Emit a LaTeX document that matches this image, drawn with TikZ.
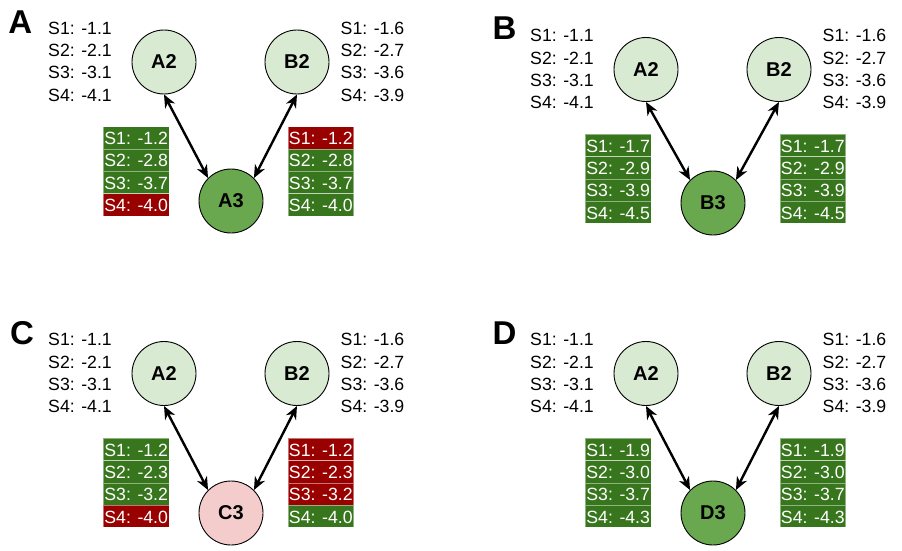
\documentclass[tikz,border=0pt]{standalone}
\usepackage{fontspec}
\setmainfont{Liberation Sans}
\usetikzlibrary{arrows.meta}
\definecolor{okgreen}{HTML}{38761D}
\definecolor{badred}{HTML}{990000}
\definecolor{litegreen}{HTML}{D9EAD3}
\definecolor{midgreen}{HTML}{6AA84F}
\definecolor{pinkfill}{HTML}{F4CCCC}
\begin{document}
\begin{tikzpicture}[x=1pt,y=-1pt,
  tag/.style={font=\fontsize{33}{33}\selectfont\bfseries,anchor=base west,inner sep=0},
  val/.style={font=\fontsize{17.7}{21}\selectfont,anchor=base west,inner sep=0},
  bubble/.style={circle,draw,line width=0.9pt,minimum size=64pt,inner sep=0,font=\fontsize{20}{20}\selectfont\bfseries},
  cell/.style={rectangle,draw=white,draw opacity=0.45,line width=0.6pt,minimum width=65.7pt,minimum height=22.3pt,inner sep=0,text=white,text height=13.6pt,text depth=0pt,font=\fontsize{17.7}{21}\selectfont},
  link/.style={line width=2.4pt,<->,>={Stealth[length=13pt,width=11pt,inset=4pt]}}]
\useasboundingbox (0,0) rectangle (902,551);

% panel A
\begin{scope}
\node[tag] (aT) at (8.3,33.3) {A};
\foreach \i/\v in {1/-1.1,2/-2.1,3/-3.1,4/-4.1}
  \node[val] (aL\i) at (48,11.9+22.3*\i) {S\i: \v};
\foreach \i/\v in {1/-1.6,2/-2.7,3/-3.6,4/-3.9}
  \node[val] (aR\i) at (340.5,11.9+22.3*\i) {S\i: \v};
\node[bubble,fill=litegreen] (aA2) at (164,62) {A2};
\node[bubble,fill=litegreen] (aB2) at (297,62) {B2};
\node[bubble,fill=midgreen] (aA3) at (231,201) {A3};
\foreach \i/\v/\c in {1/-1.2/okgreen,2/-2.8/okgreen,3/-3.7/okgreen,4/-4.0/badred}
  \node[cell,fill=\c] (aP\i) at (136.2,115.55+22.3*\i) {S\i: \v};
\foreach \i/\v/\c in {1/-1.2/badred,2/-2.8/okgreen,3/-3.7/okgreen,4/-4.0/okgreen}
  \node[cell,fill=\c] (aQ\i) at (320.8,115.55+22.3*\i) {S\i: \v};
\draw[link] (aA2.south) -- (aA3.north west);
\draw[link] (aB2.south) -- (aA3.north east);
\end{scope}

% panel B
\begin{scope}[shift={(482,7.5)}]
\node[tag] (bT) at (10.5,32.5) {B};
\foreach \i/\v in {1/-1.1,2/-2.1,3/-3.1,4/-4.1}
  \node[val] (bL\i) at (48,11.9+22.3*\i) {S\i: \v};
\foreach \i/\v in {1/-1.6,2/-2.7,3/-3.6,4/-3.9}
  \node[val] (bR\i) at (340.5,11.9+22.3*\i) {S\i: \v};
\node[bubble,fill=litegreen] (bA2) at (164,62) {A2};
\node[bubble,fill=litegreen] (bB2) at (297,62) {B2};
\node[bubble,fill=midgreen] (bB3) at (231,195.5) {B3};
\foreach \i/\v in {1/-1.7,2/-2.9,3/-3.9,4/-4.5}
  \node[cell,fill=okgreen] (bP\i) at (136.2,115.55+22.3*\i) {S\i: \v};
\foreach \i/\v in {1/-1.7,2/-2.9,3/-3.9,4/-4.5}
  \node[cell,fill=okgreen] (bQ\i) at (330.8,115.55+22.3*\i) {S\i: \v};
\draw[link] (bA2.south) -- (bB3.north west);
\draw[link] (bB2.south) -- (bB3.north east);
\end{scope}

% panel C
\begin{scope}[shift={(0,311.5)}]
\node[tag] (cT) at (10,32.5) {C};
\foreach \i/\v in {1/-1.1,2/-2.1,3/-3.1,4/-4.1}
  \node[val] (cL\i) at (48,11.9+22.3*\i) {S\i: \v};
\foreach \i/\v in {1/-1.6,2/-2.7,3/-3.6,4/-3.9}
  \node[val] (cR\i) at (340.5,11.9+22.3*\i) {S\i: \v};
\node[bubble,fill=litegreen] (cA2) at (164,62) {A2};
\node[bubble,fill=litegreen] (cB2) at (297,62) {B2};
\node[bubble,fill=pinkfill] (cC3) at (231,201.5) {C3};
\foreach \i/\v/\c in {1/-1.2/okgreen,2/-2.3/okgreen,3/-3.2/okgreen,4/-4.0/badred}
  \node[cell,fill=\c] (cP\i) at (136.2,115.55+22.3*\i) {S\i: \v};
\foreach \i/\v/\c in {1/-1.2/badred,2/-2.3/badred,3/-3.2/badred,4/-4.0/okgreen}
  \node[cell,fill=\c] (cQ\i) at (320.8,115.55+22.3*\i) {S\i: \v};
\draw[link] (cA2.south) -- (cC3.north west);
\draw[link] (cB2.south) -- (cC3.north east);
\end{scope}

% panel D
\begin{scope}[shift={(482,311.5)}]
\node[tag] (dT) at (10.5,32.5) {D};
\foreach \i/\v in {1/-1.1,2/-2.1,3/-3.1,4/-4.1}
  \node[val] (dL\i) at (48,11.9+22.3*\i) {S\i: \v};
\foreach \i/\v in {1/-1.6,2/-2.7,3/-3.6,4/-3.9}
  \node[val] (dR\i) at (340.5,11.9+22.3*\i) {S\i: \v};
\node[bubble,fill=litegreen] (dA2) at (164,62) {A2};
\node[bubble,fill=litegreen] (dB2) at (297,62) {B2};
\node[bubble,fill=midgreen] (dD3) at (231,201.5) {D3};
\foreach \i/\v in {1/-1.9,2/-3.0,3/-3.7,4/-4.3}
  \node[cell,fill=okgreen] (dP\i) at (136.2,115.55+22.3*\i) {S\i: \v};
\foreach \i/\v in {1/-1.9,2/-3.0,3/-3.7,4/-4.3}
  \node[cell,fill=okgreen] (dQ\i) at (330.8,115.55+22.3*\i) {S\i: \v};
\draw[link] (dA2.south) -- (dD3.north west);
\draw[link] (dB2.south) -- (dD3.north east);
\end{scope}
\end{tikzpicture}
\end{document}
